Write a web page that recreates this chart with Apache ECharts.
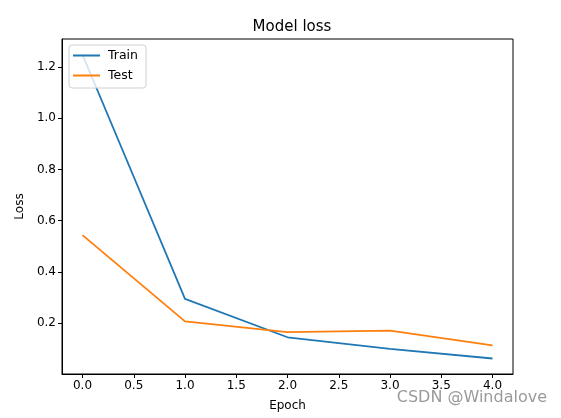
<!DOCTYPE html>
<html>
<head>
<meta charset="utf-8">
<script src="https://cdn.jsdelivr.net/npm/echarts@6/dist/echarts.min.js"></script>
<style>
html, body { margin: 0; padding: 0; background: #fff; }
#main { width: 561px; height: 418px; }
</style>
</head>
<body>
<div id="main"></div>
<script>
// 数据
var epochs = [0, 1, 2, 3, 4];
var trainLoss = [1.248, 0.294, 0.144, 0.099, 0.061];
var testLoss = [0.543, 0.206, 0.164, 0.170, 0.112];
var xTicks = [0, 0.5, 1, 1.5, 2, 2.5, 3, 3.5, 4];
var yTicks = [0.2, 0.4, 0.6, 0.8, 1.0, 1.2];

function pairs(xs, ys) {
	return xs.map(function(x, i) { return [x, ys[i]]; });
}

var font = 'DejaVu Sans';
var myChart = echarts.init(document.getElementById('main'));
myChart.setOption({
	animation: false,
	title: {
		text: 'Model loss',
		left: 287,
		top: 15,
		textAlign: 'center',
		textStyle: { fontFamily: font, fontSize: 15, fontWeight: 'normal', color: '#000' }
	},
	grid: {
		left: 62, right: 48, top: 39, bottom: 44,
		show: true,
		borderColor: '#000',
		borderWidth: 1
	},
	legend: {
		orient: 'vertical',
		left: 69,
		top: 45,
		padding: [4, 8, 6, 4],
		itemGap: 7,
		itemWidth: 27,
		itemHeight: 2,
		borderColor: '#d0d0d0',
		borderWidth: 1,
		borderRadius: 3,
		backgroundColor: 'rgba(255,255,255,0.8)',
		textStyle: { fontFamily: font, fontSize: 12.5, color: '#000', padding: [0, 0, 0, 3] },
		data: [
			{ name: 'Train', icon: 'rect' },
			{ name: 'Test', icon: 'rect' }
		]
	},
	xAxis: {
		type: 'value',
		min: -0.2,
		max: 4.2,
		name: 'Epoch',
		nameLocation: 'middle',
		nameGap: 26,
		nameTextStyle: { fontFamily: font, fontSize: 12, color: '#000' },
		splitLine: { show: false },
		axisLine: { show: true, onZero: false, lineStyle: { color: '#000' } },
		axisTick: { show: true, length: 4, customValues: xTicks, lineStyle: { color: '#000' } },
		axisLabel: {
			customValues: xTicks,
			fontFamily: font, fontSize: 12, color: '#000', margin: 6,
			formatter: function(v) { return v.toFixed(1); }
		}
	},
	yAxis: {
		type: 'value',
		min: 0.0005,
		max: 1.3095,
		name: 'Loss',
		nameLocation: 'middle',
		nameGap: 34,
		nameRotate: 90,
		nameTextStyle: { fontFamily: font, fontSize: 12, color: '#000' },
		splitLine: { show: false },
		axisLine: { show: true, onZero: false, lineStyle: { color: '#000' } },
		axisTick: { show: true, length: 4, customValues: yTicks, lineStyle: { color: '#000' } },
		axisLabel: {
			customValues: yTicks,
			fontFamily: font, fontSize: 12, color: '#000', margin: 6,
			formatter: function(v) { return v.toFixed(1); }
		}
	},
	series: [
		{
			name: 'Train',
			type: 'line',
			data: pairs(epochs, trainLoss),
			symbol: 'none',
			color: '#1f77b4',
			lineStyle: { width: 1.8, color: '#1f77b4' }
		},
		{
			name: 'Test',
			type: 'line',
			data: pairs(epochs, testLoss),
			symbol: 'none',
			color: '#ff7f0e',
			lineStyle: { width: 1.8, color: '#ff7f0e' }
		}
	],
	graphic: [{
		type: 'text',
		right: 14,
		top: 390,
		style: {
			text: 'CSDN @Windalove',
			fontFamily: font,
			fontSize: 16,
			fill: 'rgba(120,120,120,0.75)'
		}
	}]
});
</script>
</body>
</html>
